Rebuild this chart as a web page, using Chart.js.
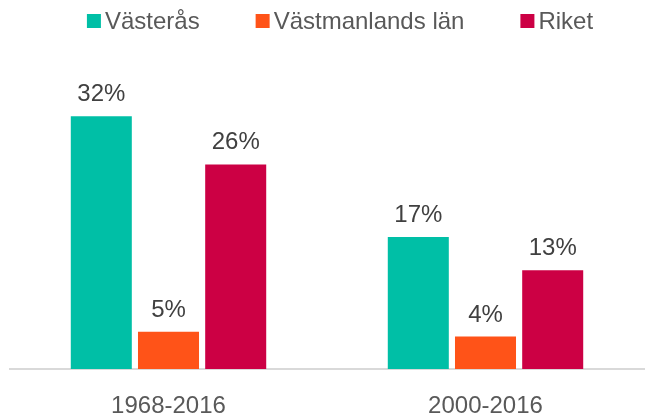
<!DOCTYPE html>
<html>
<head>
<meta charset="utf-8">
<script src="https://cdn.jsdelivr.net/npm/chart.js@4/dist/chart.umd.min.js"></script>
<style>
  html, body { margin: 0; padding: 0; background: #fff; }
  #wrap { width: 645px; height: 418px; }
</style>
</head>
<body>
<div id="wrap"><canvas id="chart" width="645" height="418"></canvas></div>
<script>
const categories = ['1968-2016', '2000-2016'];
const seriesNames = ['Västerås', 'Västmanlands län', 'Riket'];
// bar heights, labels show them rounded
const vasteras = [32, 16.7];
const vastmanland = [4.7, 4.1];
const riket = [25.9, 12.5];
const colors = ['#00BFA6', '#FF5318', '#CC0044'];

const FONT = '"Liberation Sans", Arial, sans-serif';

// draws the percent label above each bar
const barLabels = {
    id: 'barLabels',
    afterDatasetsDraw(chart) {
        const ctx = chart.ctx;
        ctx.save();
        ctx.font = '24px ' + FONT;
        ctx.fillStyle = '#404040';
        ctx.textAlign = 'center';
        ctx.textBaseline = 'alphabetic';
        chart.data.datasets.forEach((ds, i) => {
            chart.getDatasetMeta(i).data.forEach((bar, j) => {
                ctx.fillText(Math.round(ds.data[j]) + '%', bar.x, bar.y - 15);
            });
        });
        ctx.restore();
    }
};

// simple legend on top, squares close to the text
const topLegend = {
    id: 'topLegend',
    afterDraw(chart) {
        const ctx = chart.ctx;
        ctx.save();
        ctx.font = '24px ' + FONT;
        ctx.textBaseline = 'middle';
        ctx.textAlign = 'left';
        const box = 14, gap = 4, spacing = 56;
        const items = chart.data.datasets.map(ds => ({
            text: ds.label, color: ds.backgroundColor,
            w: box + gap + ctx.measureText(ds.label).width
        }));
        const total = items.reduce((s, it) => s + it.w, 0) + spacing * (items.length - 1);
        let x = 340 - total / 2;
        const y = 21;
        items.forEach(it => {
            ctx.fillStyle = it.color;
            ctx.fillRect(x, y - box / 2, box, box);
            ctx.fillStyle = '#595959';
            ctx.fillText(it.text, x + box + gap, y + 1);
            x += it.w + spacing;
        });
        ctx.restore();
    }
};

new Chart(document.getElementById('chart'), {
    type: 'bar',
    data: {
        labels: categories,
        datasets: [
            { label: seriesNames[0], data: vasteras, backgroundColor: colors[0] },
            { label: seriesNames[1], data: vastmanland, backgroundColor: colors[1] },
            { label: seriesNames[2], data: riket, backgroundColor: colors[2] }
        ]
    },
    options: {
        responsive: false,
        animation: false,
        categoryPercentage: 0.636,
        barPercentage: 0.908,
        layout: { padding: { left: 10, right: 1, top: 53, bottom: 0 } },
        plugins: {
            legend: { display: false },
            tooltip: { enabled: false }
        },
        scales: {
            x: {
                grid: { display: false, drawTicks: false },
                border: { color: '#d9d9d9', width: 2 },
                ticks: {
                    color: '#595959',
                    padding: 23,
                    font: { size: 24, family: FONT }
                },
                afterFit(scale) { scale.height = 49; }
            },
            y: {
                display: false,
                min: 0,
                max: 40
            }
        }
    },
    plugins: [barLabels, topLegend]
});
</script>
</body>
</html>
